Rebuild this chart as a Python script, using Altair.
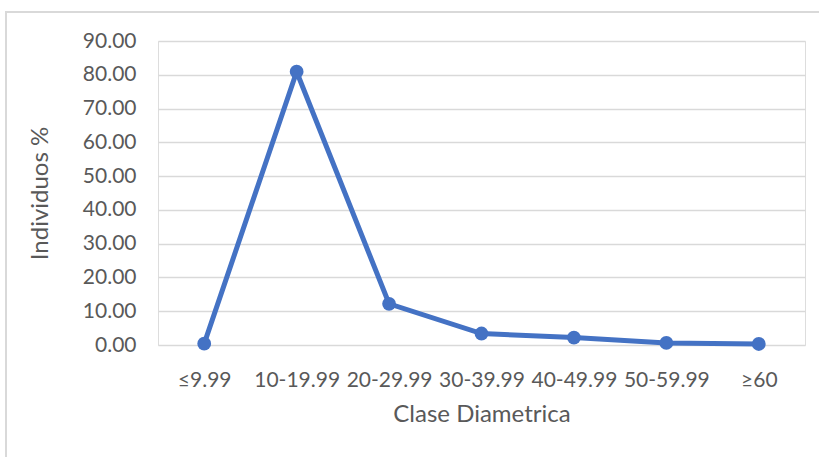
import altair as alt
import pandas as pd

# Percentage of individuals per diameter class
clases = ["≤9.99", "10-19.99", "20-29.99", "30-39.99", "40-49.99", "50-59.99", "≥60"]
individuos = [0.4, 80.9, 12.2, 3.4, 2.2, 0.6, 0.3]
y_ticks = [0, 10, 20, 30, 40, 50, 60, 70, 80, 90]

df = pd.DataFrame({"clase": clases, "pct": individuos})

BLUE = "#4472C4"
TEXT = "#595959"
GRID = "#D9D9D9"

x_enc = alt.X(
    "clase:N",
    sort=clases,
    scale=alt.Scale(type="point", padding=0.5),
    axis=alt.Axis(
        title="Clase Diametrica",
        labelAngle=0,
        labelFont="Lato",
        labelFontSize=21,
        labelColor=TEXT,
        labelPadding=24,
        titleFont="Lato",
        titleFontSize=24,
        titleFontWeight="normal",
        titleColor=TEXT,
        titlePadding=12,
        domain=False,
        ticks=False,
        grid=False,
    ),
)
y_enc = alt.Y(
    "pct:Q",
    scale=alt.Scale(domain=[0, 90], nice=False),
    axis=alt.Axis(
        title="Individuos %",
        values=y_ticks,
        format=".2f",
        labelFont="Lato",
        labelFontSize=21,
        labelColor=TEXT,
        labelPadding=22,
        titleFont="Lato",
        titleFontSize=24,
        titleFontWeight="normal",
        titleColor=TEXT,
        titlePadding=30,
        domain=False,
        ticks=False,
        grid=True,
        gridColor=GRID,
        gridWidth=1.5,
    ),
)

line = alt.Chart(df).mark_line(color=BLUE, strokeWidth=5).encode(x=x_enc, y=y_enc)
points = alt.Chart(df).mark_circle(color=BLUE, size=190, opacity=1).encode(x=x_enc, y=y_enc)

# Light outer frame around the whole chart
frame = alt.Chart(df).mark_rect(
    fill=None, stroke=GRID, strokeWidth=1.5
).encode(
    x=alt.value(-152), x2=alt.value(670), y=alt.value(-29), y2=alt.value(430)
)

chart = (
    alt.layer(frame, line, points)
    .properties(
        width=647,
        height=304,
        autosize=alt.AutoSizeParams(type="none"),
        padding={"left": 158, "top": 41, "right": 14, "bottom": 112},
    )
    .configure_view(strokeWidth=0, stroke="transparent")
    .configure_axisX(grid=False, domain=False)
    .configure(background="white")
)

chart.save("out.html", embed_options={"renderer": "svg", "actions": False})
